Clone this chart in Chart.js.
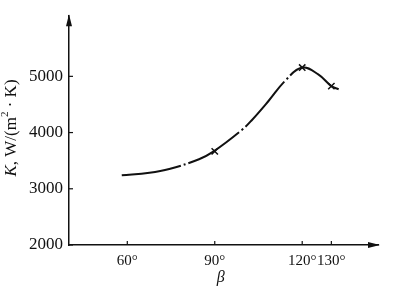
<!DOCTYPE html>
<html><head><meta charset="utf-8">
<script src="https://cdn.jsdelivr.net/npm/chart.js@4"></script>
<style>html,body{margin:0;padding:0;background:#fff}#c{display:block}</style>
</head><body>
<canvas id="c" width="396" height="295"></canvas>
<script>
const betaDeg = [58.1, 67.6, 74.4, 84.6, 89.5, 99.3, 102.7, 108.5, 114.3, 120, 125.5, 130, 132.5];
const kValues = [3240, 3285, 3352, 3526, 3660, 4046, 4220, 4566, 4930, 5156, 5035, 4826, 4770];
const markBeta = [90, 120, 130];
const markK = [3665, 5156, 4826];
const xTicks = [60, 90, 120, 130];
const yTicks = [2000, 3000, 4000, 5000];
const xTitle = 'β';

const INK = '#111';
const FONT = 'Liberation Serif';

const axisDeco = {
  id: 'axisDeco',
  afterDraw(chart) {
    const ctx = chart.ctx, a = chart.chartArea;
    const xs = chart.scales.x, ys = chart.scales.y;
    ctx.save();
    ctx.strokeStyle = INK; ctx.fillStyle = INK; ctx.lineWidth = 1.2;
    xTicks.forEach(v => { const p = xs.getPixelForValue(v); ctx.beginPath(); ctx.moveTo(p, a.bottom); ctx.lineTo(p, a.bottom - 4); ctx.stroke(); });
    yTicks.forEach(v => { const p = ys.getPixelForValue(v); ctx.beginPath(); ctx.moveTo(a.left, p); ctx.lineTo(a.left + 4, p); ctx.stroke(); });
    ctx.beginPath(); ctx.moveTo(a.left, a.top - 2); ctx.lineTo(a.left - 3, a.top + 10); ctx.lineTo(a.left + 3, a.top + 10); ctx.closePath(); ctx.fill();
    ctx.beginPath(); ctx.moveTo(a.right + 2, a.bottom); ctx.lineTo(a.right - 10, a.bottom - 3); ctx.lineTo(a.right - 10, a.bottom + 3); ctx.closePath(); ctx.fill();
    ctx.font = 'italic 16px "' + FONT + '"';
    ctx.textAlign = 'center'; ctx.textBaseline = 'middle';
    ctx.fillText(xTitle, xs.getPixelForValue(90) + 6, 278);
    const parts = [
      { t: 'K', f: 'italic 17px "' + FONT + '"', dy: 0 },
      { t: ', W/(m', f: '17px "' + FONT + '"', dy: 0 },
      { t: '2', f: '11px "' + FONT + '"', dy: -7 },
      { t: ' · K)', f: '17px "' + FONT + '"', dy: 0 }
    ];
    let total = 0;
    parts.forEach(p => { ctx.font = p.f; p.w = ctx.measureText(p.t).width; total += p.w; });
    ctx.translate(12, 128); ctx.rotate(-Math.PI / 2);
    ctx.textAlign = 'left';
    let x = -total / 2;
    parts.forEach(p => { ctx.font = p.f; ctx.fillText(p.t, x, p.dy); x += p.w; });
    ctx.restore();
  }
};

new Chart(document.getElementById('c'), {
  type: 'scatter',
  data: {
    datasets: [
      {
        data: betaDeg.map((b, i) => ({ x: b, y: kValues[i] })),
        showLine: true, borderColor: INK, borderWidth: 2, pointRadius: 0,
        tension: 0.4, borderDash: [60, 3, 2, 3]
      },
      {
        data: markBeta.map((b, i) => ({ x: b, y: markK[i] })),
        showLine: false, pointStyle: 'crossRot', pointRadius: 4.5,
        borderColor: INK, borderWidth: 1.5, backgroundColor: INK
      }
    ]
  },
  options: {
    responsive: false, devicePixelRatio: 1, animation: false,
    layout: { padding: { top: 10, right: 18, left: 0, bottom: 0 } },
    plugins: { legend: { display: false }, tooltip: { enabled: false } },
    scales: {
      x: {
        type: 'linear', min: 40, max: 146,
        afterBuildTicks: s => { s.ticks = xTicks.map(v => ({ value: v })); },
        afterFit: s => { s.height = 50; },
        grid: { drawOnChartArea: false, drawTicks: false },
        border: { color: INK, width: 1.5 },
        ticks: { color: INK, padding: 7, maxRotation: 0, autoSkip: false,
          font: { family: FONT, size: 15 }, callback: v => v + '°' }
      },
      y: {
        min: 2000, max: 6070,
        afterBuildTicks: s => { s.ticks = yTicks.map(v => ({ value: v })); },
        afterFit: s => { s.width = 69; },
        grid: { drawOnChartArea: false, drawTicks: false },
        border: { color: INK, width: 1.5 },
        ticks: { color: INK, padding: 6, font: { family: FONT, size: 17 }, callback: v => String(v) }
      }
    }
  },
  plugins: [axisDeco]
});
</script>
</body></html>
